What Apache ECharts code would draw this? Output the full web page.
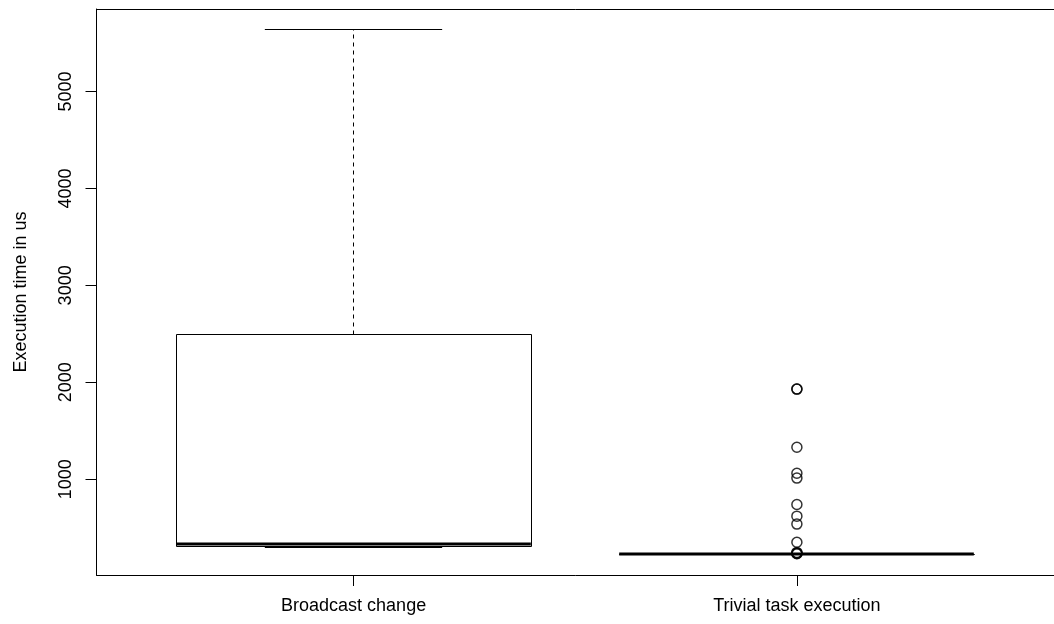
<!DOCTYPE html>
<html>
<head>
<meta charset="utf-8">
<script src="https://cdn.jsdelivr.net/npm/echarts@6/dist/echarts.min.js"></script>
<style>
html,body{margin:0;padding:0;background:#fff;}
#chart{width:1054px;height:624px;}
</style>
</head>
<body>
<div id="chart"></div>
<script>
// ---- data ----
var categories = ['Broadcast change', 'Trivial task execution'];
// [lowerWhisker, Q1, median, Q3, upperWhisker]
var boxStats = [
  [300, 310, 332, 2493, 5634],
  [229, 229, 229, 229, 229]
];
// outliers of the second group
var outliers2 = [1930, 1930, 1330, 1062, 1012, 740, 620, 538, 350, 246, 240, 235, 232];
var yTicks = [1000, 2000, 3000, 4000, 5000];

// R-style axis extension (4%)
var allVals = [];
boxStats.forEach(function (b) { allVals = allVals.concat(b); });
allVals = allVals.concat(outliers2);
var dMin = Math.min.apply(null, allVals), dMax = Math.max.apply(null, allVals);
var ext = (dMax - dMin) * 0.04;
var yMin = dMin - ext, yMax = dMax + ext;

var boxData = boxStats.map(function (b, i) { return [i + 1].concat(b); });
var outlierData = outliers2.map(function (v) { return [2, v]; });

var FONT = 'Liberation Sans, Arial, Helvetica, sans-serif';
var chart = echarts.init(document.getElementById('chart'), null, {renderer: 'canvas'});

function snap(v) { return Math.round(v - 0.5) + 0.5; }

chart.setOption({
  animation: false,
  backgroundColor: '#fff',
  grid: {left: 96.5, top: 9, width: 959, height: 566, show: false},
  xAxis: [{
    type: 'value', min: 0.42, max: 2.58,
    splitLine: {show: false},
    axisLine: {show: true, lineStyle: {color: '#000', width: 1}},
    axisTick: {show: true, length: 11, customValues: [1, 2], lineStyle: {color: '#000'}},
    axisLabel: {
      customValues: [1, 2], margin: 22, color: '#000', fontFamily: FONT, fontSize: 18,
      formatter: function (v) { return categories[Math.round(v) - 1] || ''; }
    }
  }, {
    type: 'value', min: 0.42, max: 2.58, position: 'top',
    splitLine: {show: false},
    axisLine: {show: true, lineStyle: {color: '#000', width: 1}},
    axisTick: {show: false}, axisLabel: {show: false}
  }],
  yAxis: {
    type: 'value', min: yMin, max: yMax,
    name: 'Execution time in us', nameLocation: 'middle', nameGap: 66,
    nameTextStyle: {color: '#000', fontFamily: FONT, fontSize: 18},
    splitLine: {show: false},
    axisLine: {show: true, lineStyle: {color: '#000', width: 1}},
    axisTick: {show: true, length: 11, customValues: yTicks, lineStyle: {color: '#000'}},
    axisLabel: {customValues: yTicks, rotate: 90, margin: 21, color: '#000', fontFamily: FONT, fontSize: 18,
      formatter: function (v) { return String(Math.round(v)); }}
  },
  series: [
    {
      type: 'custom',
      data: boxData,
      encode: {x: 0, y: [1, 2, 3, 4, 5]},
      renderItem: function (params, api) {
        var x = api.value(0);
        var lo = api.value(1), q1 = api.value(2), md = api.value(3), q3 = api.value(4), hi = api.value(5);
        var bw = api.size([0.8, 0])[0];
        var sw = bw / 2;
        var c = api.coord([x, md]);
        var yq1 = snap(api.coord([x, q1])[1]), yq3 = snap(api.coord([x, q3])[1]);
        var ylo = snap(api.coord([x, lo])[1]), yhi = snap(api.coord([x, hi])[1]);
        var ymd = c[1], cx = snap(c[0]);
        var st = {stroke: '#000', lineWidth: 1, fill: null};
        var dash = {stroke: '#000', lineWidth: 1, lineDash: [4, 4], fill: null};
        var children = [];
        children.push({type: 'line', shape: {x1: cx, y1: yq3, x2: cx, y2: yhi}, style: dash});
        children.push({type: 'line', shape: {x1: cx, y1: yq1, x2: cx, y2: ylo}, style: dash});
        children.push({type: 'line', shape: {x1: cx - sw / 2, y1: yhi, x2: cx + sw / 2, y2: yhi}, style: st});
        children.push({type: 'line', shape: {x1: cx - sw / 2, y1: ylo, x2: cx + sw / 2, y2: ylo}, style: st});
        children.push({type: 'rect', shape: {x: snap(cx - bw / 2), y: yq3, width: Math.round(bw), height: yq1 - yq3}, style: {stroke: '#000', lineWidth: 1, fill: '#fff'}});
        children.push({type: 'line', shape: {x1: cx - bw / 2, y1: ymd, x2: cx + bw / 2, y2: ymd}, style: {stroke: '#000', lineWidth: 3}});
        return {type: 'group', children: children};
      },
      z: 2
    },
    {
      type: 'scatter',
      data: outlierData,
      symbol: 'circle',
      symbolSize: 10,
      itemStyle: {color: 'rgba(0,0,0,0)', borderColor: '#000', borderWidth: 1.5},
      z: 3
    }
  ]
});
</script>
</body>
</html>
